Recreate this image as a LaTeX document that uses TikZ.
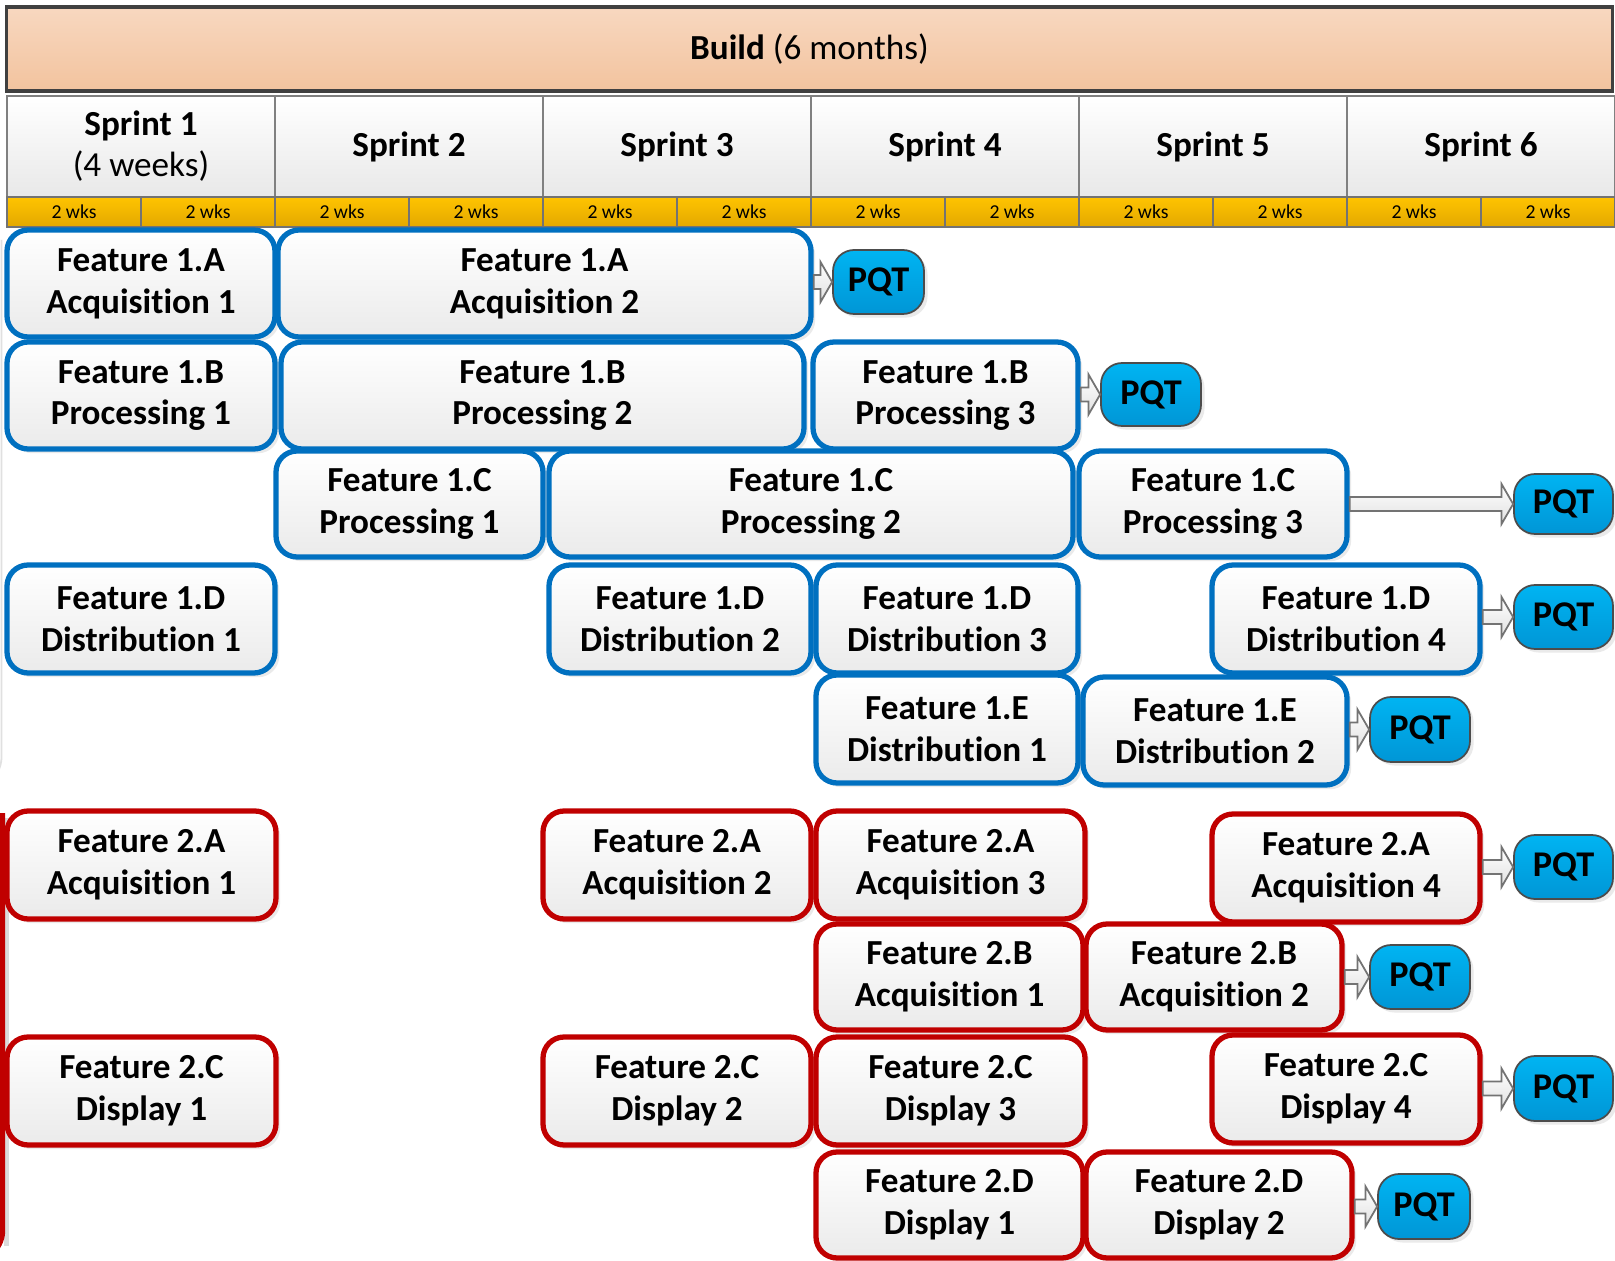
\documentclass[tikz,border=0pt]{standalone}
\usepackage{fontspec}
\setmainfont{Carlito}[Ligatures=NoCommon]
\usetikzlibrary{calc,shadows}
\definecolor{fblue}{HTML}{0070C0}
\definecolor{fred}{HTML}{C00000}
\definecolor{pqtop}{HTML}{00B4F2}
\definecolor{pqbot}{HTML}{0096D6}
\definecolor{buildtop}{HTML}{F8D8C0}
\definecolor{buildbot}{HTML}{F2C39E}
\definecolor{wktop}{HTML}{FFC400}
\definecolor{wkbot}{HTML}{E3A800}
\newcommand\featbox[7]{%
  \node[#2, minimum width={(#5-#3)*0.01cm}, minimum height={(#6-#4)*0.01cm}] (#1) at ({(#3+#5)/2},{(#4+#6)/2}) {#7};}
\newcommand\blkarrow[2]{%
  \draw[barrow] let \p1=(#1.east), \p2=(#2.west) in
    (\x1,\y2+2pt) -- (\x2-3.3pt,\y2+2pt) -- (\x2-3.3pt,\y2+5.7pt) -- (\x2,\y2)
    -- (\x2-3.3pt,\y2-5.7pt) -- (\x2-3.3pt,\y2-2pt) -- (\x1,\y2-2pt) -- cycle;}
\begin{document}
\begin{tikzpicture}[x=0.01cm,y=-0.01cm,
  featb/.style={rounded corners=6pt, line width=1.5pt, draw=fblue, top color=white, bottom color=black!8,
    align=center, font=\bfseries\fontsize{10}{11.9}\selectfont, inner sep=0pt,
    drop shadow={shadow xshift=1.2pt,shadow yshift=-1.2pt,fill=black!16}},
  featr/.style={featb, draw=fred},
  pqt/.style={rounded corners=6pt, draw=black!70, line width=0.5pt, top color=pqtop, bottom color=pqbot,
    font=\bfseries\fontsize{10.3}{12}\selectfont, inner sep=0pt,
    drop shadow={shadow xshift=1pt,shadow yshift=-1pt,fill=black!16}},
  barrow/.style={draw=black!55, line width=0.5pt, top color=white, bottom color=black!12},
  sprint/.style={draw=black!50, line width=0.6pt, top color=white, bottom color=black!9,
    minimum width=2.68cm, minimum height=1.01cm, align=center, inner sep=0pt,
    font=\bfseries\fontsize{10}{11.7}\selectfont},
  wk/.style={draw=black!55, line width=0.6pt, top color=wktop, bottom color=wkbot,
    minimum width=1.34cm, minimum height=0.30cm, inner sep=0pt, font=\fontsize{5.6}{6.7}\selectfont},
  build/.style={draw=black!75, line width=1.1pt, top color=buildtop, bottom color=buildbot,
    minimum width=16.05cm, minimum height=0.84cm, inner sep=0pt, font=\fontsize{10}{12}\selectfont}
]
\fill[white] (0,0) rectangle (1615,1261);
\useasboundingbox (0,0) rectangle (1615,1261);

% header
\node[build] (build) at (809.5,49) {\textbf{Build} (6 months)};
\node[sprint] (s1) at (141,146.5) {Sprint 1\\{\mdseries (4 weeks)}};
\foreach \k in {2,...,6} {
  \node[sprint] (s\k) at ({7+268*(\k-0.5)},146.5) {Sprint \k};
}
\foreach \k in {1,...,12} {
  \node[wk] (w\k) at ({7+134*(\k-0.5)},212) {2 wks};
}

% faint left edge of the first group
\draw[black!12, line width=0.5pt, rounded corners=4pt] (1.5,240) -- (1.5,772) -- (-3,776);
% left red edge of the second group
\draw[black!14, line width=1.2pt] (6.5,818) -- (6.5,1246);
\draw[fred, line width=1.5pt, rounded corners=4pt] (2.5,813) -- (2.5,1246) -- (-3,1250);

% Feature 1 (blue)
\featbox{a1}{featb}{7}{230}{275}{337}{Feature 1.A\\Acquisition 1}
\featbox{a2}{featb}{278}{230}{811}{337}{Feature 1.A\\Acquisition 2}
\featbox{pqA}{pqt}{833}{250}{924}{314}{PQT}

\featbox{b1}{featb}{7}{342}{275}{449}{Feature 1.B\\Processing 1}
\featbox{b2}{featb}{281}{342}{804}{449}{Feature 1.B\\Processing 2}
\featbox{b3}{featb}{813}{342}{1078}{449}{Feature 1.B\\Processing 3}
\featbox{pqB}{pqt}{1101}{363}{1201}{426}{PQT}

\featbox{c1}{featb}{276}{451}{543}{557}{Feature 1.C\\Processing 1}
\featbox{c2}{featb}{549}{451}{1073}{557}{Feature 1.C\\Processing 2}
\featbox{c3}{featb}{1079}{451}{1347}{557}{Feature 1.C\\Processing 3}
\featbox{pqC}{pqt}{1514}{474}{1613}{534}{PQT}

\featbox{d1}{featb}{7}{565}{275}{673}{Feature 1.D\\Distribution 1}
\featbox{d2}{featb}{549}{565}{811}{673}{Feature 1.D\\Distribution 2}
\featbox{d3}{featb}{816}{565}{1078}{673}{Feature 1.D\\Distribution 3}
\featbox{d4}{featb}{1212}{565}{1480}{673}{Feature 1.D\\Distribution 4}
\featbox{pqD}{pqt}{1514}{585}{1613}{649}{PQT}

\featbox{e1}{featb}{816}{675}{1078}{783}{Feature 1.E\\Distribution 1}
\featbox{e2}{featb}{1083}{677}{1347}{785}{Feature 1.E\\Distribution 2}
\featbox{pqE}{pqt}{1370}{697}{1470}{762}{PQT}

% Feature 2 (red)
\featbox{f1}{featr}{7}{811}{276}{919}{Feature 2.A\\Acquisition 1}
\featbox{f2}{featr}{543}{811}{811}{919}{Feature 2.A\\Acquisition 2}
\featbox{f3}{featr}{816}{811}{1085}{919}{Feature 2.A\\Acquisition 3}
\featbox{f4}{featr}{1212}{814}{1480}{922}{Feature 2.A\\Acquisition 4}
\featbox{pqF}{pqt}{1514}{835}{1613}{899}{PQT}

\featbox{g1}{featr}{816}{924}{1083}{1030}{Feature 2.B\\Acquisition 1}
\featbox{g2}{featr}{1086}{924}{1342}{1030}{Feature 2.B\\Acquisition 2}
\featbox{pqG}{pqt}{1370}{945}{1470}{1009}{PQT}

\featbox{h1}{featr}{7}{1037}{276}{1145}{Feature 2.C\\Display 1}
\featbox{h2}{featr}{543}{1037}{811}{1145}{Feature 2.C\\Display 2}
\featbox{h3}{featr}{816}{1037}{1085}{1145}{Feature 2.C\\Display 3}
\featbox{h4}{featr}{1212}{1035}{1480}{1143}{Feature 2.C\\Display 4}
\featbox{pqH}{pqt}{1514}{1056}{1613}{1121}{PQT}

\featbox{i1}{featr}{816}{1152}{1083}{1258}{Feature 2.D\\Display 1}
\featbox{i2}{featr}{1086}{1152}{1352}{1258}{Feature 2.D\\Display 2}
\featbox{pqI}{pqt}{1378}{1174}{1470}{1239}{PQT}

% arrows
\blkarrow{a2}{pqA}
\blkarrow{b3}{pqB}
\blkarrow{c3}{pqC}
\blkarrow{d4}{pqD}
\blkarrow{e2}{pqE}
\blkarrow{f4}{pqF}
\blkarrow{g2}{pqG}
\blkarrow{h4}{pqH}
\blkarrow{i2}{pqI}
\end{tikzpicture}
\end{document}
